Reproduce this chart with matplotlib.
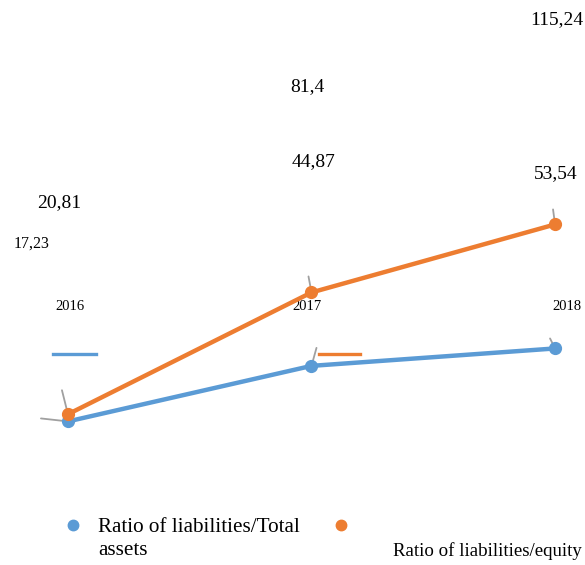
import matplotlib
matplotlib.use("Agg")
import matplotlib.pyplot as plt

plt.rcParams['font.family'] = ['Liberation Serif', 'DejaVu Serif']

years = ["2016", "2017", "2018"]
ratio_total_assets = [17.23, 44.87, 53.54]
ratio_equity = [20.81, 81.4, 115.24]
series_names = ["Ratio of liabilities/Total\nassets", "Ratio of liabilities/equity"]

BLUE = "#5B9BD5"
ORANGE = "#ED7D31"
W, H = 585, 565


def fmt(v):
    return f"{v:g}".replace(".", ",")


def fx(x):
    return x / W


def fy(y):
    return 1 - y / H


fig = plt.figure(figsize=(W / 100, H / 100), dpi=100)
ax = fig.add_axes([0, 0, 1, 1])
ax.set_axis_off()
ax.set_xlim(-0.279, 2.123)
ax.set_ylim(-54.2, 226.9)

xs = list(range(len(years)))
ax.plot(xs, ratio_total_assets, color=BLUE, lw=3.2, marker="o", ms=8.5, zorder=3)
ax.plot(xs, ratio_equity, color=ORANGE, lw=3.2, marker="o", ms=8.5, zorder=4)

# leader lines (offsets in pixels from each point)
pt = 0.72
leaders = [
    (0, ratio_equity[0], -6, 24),
    (0, ratio_total_assets[0], -27, 3),
    (1, ratio_equity[1], -3, 16),
    (1, ratio_total_assets[1], 5, 18),
    (2, ratio_equity[2], -2, 15),
    (2, ratio_total_assets[2], -5, 10),
]
for x, v, dx, dy in leaders:
    ax.annotate("", xy=(x, v), xytext=(dx * pt, dy * pt), textcoords="offset points",
                arrowprops=dict(arrowstyle="-", color="#a0a0a0", lw=1.3,
                                shrinkA=0, shrinkB=0), zorder=2)

# value labels
big = 14
ax.text(fx(59), fy(203), fmt(ratio_equity[0]), transform=ax.transAxes,
        ha="center", va="center", fontsize=big)
ax.text(fx(32), fy(244), fmt(ratio_total_assets[0]), transform=ax.transAxes,
        ha="center", va="center", fontsize=11.5)
ax.text(fx(307), fy(87), fmt(ratio_equity[1]), transform=ax.transAxes,
        ha="center", va="center", fontsize=big)
ax.text(fx(314), fy(162), fmt(ratio_total_assets[1]), transform=ax.transAxes,
        ha="center", va="center", fontsize=big)
ax.text(fx(557), fy(20), fmt(ratio_equity[2]), transform=ax.transAxes,
        ha="center", va="center", fontsize=big)
ax.text(fx(556), fy(174), fmt(ratio_total_assets[2]), transform=ax.transAxes,
        ha="center", va="center", fontsize=big)

# category labels
for yr, cx in zip(years, [70, 307, 567]):
    ax.text(fx(cx), fy(306), yr, transform=ax.transAxes,
            ha="center", va="center", fontsize=10.5)

# short legend keys
ax.plot([fx(53), fx(96)], [fy(354), fy(354)], color=BLUE, lw=2.4,
        transform=ax.transAxes, clip_on=False)
ax.plot([fx(319), fx(360)], [fy(354), fy(354)], color=ORANGE, lw=2.4,
        transform=ax.transAxes, clip_on=False)

# legend
ax.plot([fx(73)], [fy(525)], "o", color=BLUE, ms=7.5, transform=ax.transAxes, clip_on=False)
ax.plot([fx(341)], [fy(525)], "o", color=ORANGE, ms=7.5, transform=ax.transAxes, clip_on=False)
ax.text(fx(98), fy(539), series_names[0], transform=ax.transAxes,
        ha="left", va="center", fontsize=15.2, linespacing=1.3)
ax.text(fx(393), fy(551), series_names[1], transform=ax.transAxes,
        ha="left", va="center", fontsize=13.6)

fig.savefig("out.png", dpi=100, facecolor="white")
